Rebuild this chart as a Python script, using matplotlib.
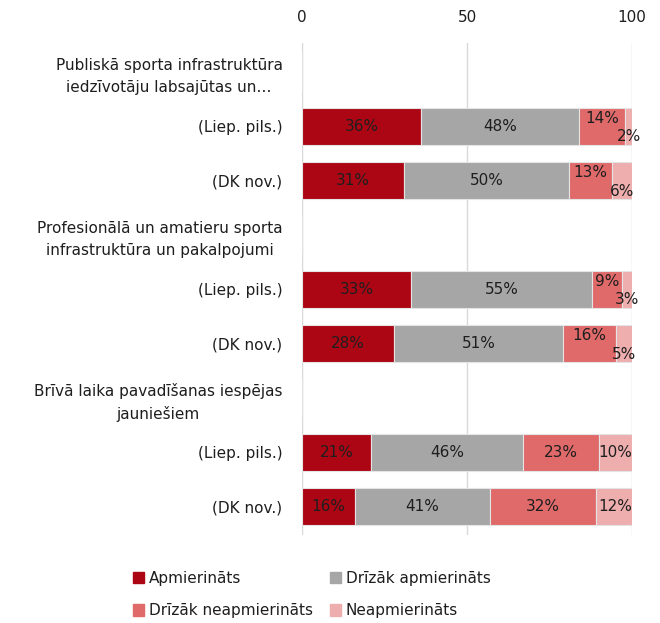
import numpy as np
import matplotlib.pyplot as plt
from matplotlib.patches import Patch

plt.rcParams['font.family'] = ['DejaVu Sans']

labels = ['Publiskā sporta infrastruktūra\niedzīvotāju labsajūtas un…',
          '(Liep. pils.)', '(DK nov.)',
          'Profesionālā un amatieru sporta\ninfrastruktūra un pakalpojumi',
          '(Liep. pils.)', '(DK nov.)',
          'Brīvā laika pavadīšanas iespējas\njauniešiem',
          '(Liep. pils.)', '(DK nov.)']

# header rows have no data (NaN)
apm = [np.nan, 36, 31, np.nan, 33, 28, np.nan, 21, 16]
drizak_apm = [np.nan, 48, 50, np.nan, 55, 51, np.nan, 46, 41]
drizak_neapm = [np.nan, 14, 13, np.nan, 9, 16, np.nan, 23, 32]
neapm = [np.nan, 2, 6, np.nan, 3, 5, np.nan, 10, 12]

series = ['Apmierināts', 'Drīzāk apmierināts', 'Drīzāk neapmierināts', 'Neapmierināts']
colors = ['#AC0614', '#A6A6A6', '#E06A6A', '#EEAEAE']
data = np.array([apm, drizak_apm, drizak_neapm, neapm])

fig = plt.figure(figsize=(6.6, 6.23), dpi=100)
ax = fig.add_axes([0.4576, 0.141, 0.5, 0.79])

y = np.arange(len(labels))
left = np.zeros(len(labels))
for k in range(4):
    vals = np.nan_to_num(data[k])
    ax.barh(y, vals, left=left, height=0.68, color=colors[k],
            edgecolor='#e4e4e4', linewidth=0.8, zorder=2)
    for i in range(len(labels)):
        v = data[k][i]
        if np.isnan(v):
            continue
        cx = left[i] + vals[i] / 2
        cy = y[i]
        small = data[3][i] < 8
        if small and k == 2:
            cy -= 0.14
        if small and k == 3:
            cy += 0.2
        ax.text(cx, cy, '%d%%' % v, ha='center', va='center',
                fontsize=11, color='#1e1e1e', zorder=3)
    left += vals

ax.set_xlim(0, 100)
ax.set_ylim(8.53, -0.53)
ax.set_xticks([0, 50, 100])
ax.xaxis.tick_top()
ax.tick_params(axis='x', length=0, labelsize=11, pad=13, colors='#1e1e1e')
ax.set_yticks(y)
ax.set_yticklabels(labels, fontsize=11, color='#1e1e1e', multialignment='center',
                   linespacing=1.55)
ax.tick_params(axis='y', length=0, pad=14)
ax.grid(axis='x', color='#d9d9d9', linewidth=1, zorder=0)
for s in ax.spines.values():
    s.set_visible(False)

# legend fills columns first, so order handles to get row-wise layout
order = [0, 2, 1, 3]
handles = [Patch(color=colors[j], label=series[j]) for j in order]
fig.legend(handles=handles, loc='lower left', bbox_to_anchor=(0.1805, -0.0145),
           ncol=2, frameon=False, fontsize=11, handlelength=0.75, handleheight=0.75,
           handletextpad=0.3, columnspacing=1.1, labelspacing=1.16,
           labelcolor='#1e1e1e')

fig.savefig('out.png', dpi=100)
